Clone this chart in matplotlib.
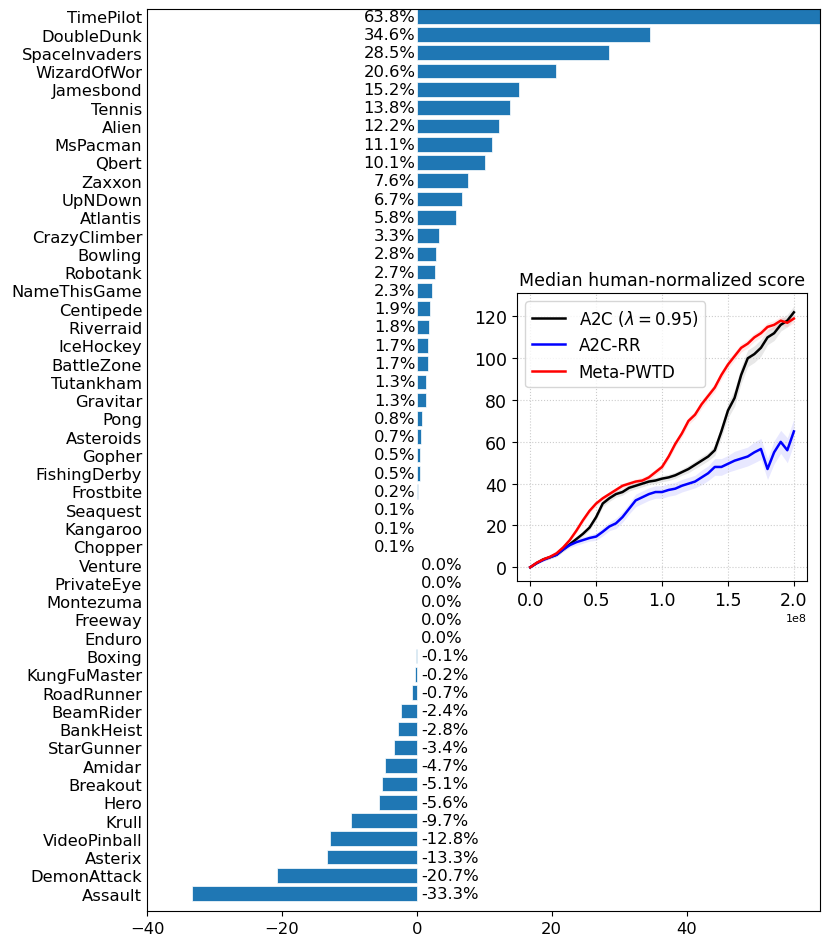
import numpy as np
import matplotlib
matplotlib.use("Agg")
import matplotlib.pyplot as plt

# relative improvement per game (%)
games = ["TimePilot", "DoubleDunk", "SpaceInvaders", "WizardOfWor", "Jamesbond",
         "Tennis", "Alien", "MsPacman", "Qbert", "Zaxxon", "UpNDown", "Atlantis",
         "CrazyClimber", "Bowling", "Robotank", "NameThisGame", "Centipede",
         "Riverraid", "IceHockey", "BattleZone", "Tutankham", "Gravitar", "Pong",
         "Asteroids", "Gopher", "FishingDerby", "Frostbite", "Seaquest", "Kangaroo",
         "Chopper", "Venture", "PrivateEye", "Montezuma", "Freeway", "Enduro",
         "Boxing", "KungFuMaster", "RoadRunner", "BeamRider", "BankHeist",
         "StarGunner", "Amidar", "Breakout", "Hero", "Krull", "VideoPinball",
         "Asterix", "DemonAttack", "Assault"]
improvement = [63.8, 34.6, 28.5, 20.6, 15.2, 13.8, 12.2, 11.1, 10.1, 7.6, 6.7, 5.8,
               3.3, 2.8, 2.7, 2.3, 1.9, 1.8, 1.7, 1.7, 1.3, 1.3, 0.8, 0.7, 0.5, 0.5,
               0.2, 0.1, 0.1, 0.1, 0.0, 0.0, 0.0, 0.0, 0.0, -0.1, -0.2, -0.7, -2.4,
               -2.8, -3.4, -4.7, -5.1, -5.6, -9.7, -12.8, -13.3, -20.7, -33.3]

# median human-normalized score curves, every 0.05e8 frames
steps = np.linspace(0, 2e8, 41)
a2c = [0, 2.0, 3.8, 4.8, 6, 8.5, 11, 13.5, 16, 19, 24, 30.5, 33, 35, 36, 38, 39, 40,
       41, 41.5, 42.4, 43, 44, 45.5, 47, 49, 51, 53, 56, 65, 75, 81, 92, 100, 102,
       105, 110, 112, 116, 118, 122]
a2c_band = [0.3, 0.5, 0.7, 0.8, 0.8, 1, 1, 1, 1.2, 1.2, 1.5, 1.5, 1.5, 1.5, 1.5, 1.5,
            1.5, 1.5, 1.5, 1.5, 1.5, 1.5, 1.5, 1.5, 1.8, 1.8, 2, 2, 2.5, 3, 3.5, 4, 4,
            4, 4, 4, 3.5, 3.5, 3, 3, 3]
a2c_rr = [0, 2.0, 3.5, 4.8, 6, 8.5, 10.6, 12, 13, 14, 14.7, 17, 19.5, 21, 24, 28, 32,
          33.5, 35, 36, 36, 37, 37.6, 39, 40, 41, 43, 45, 48, 48, 49.5, 51, 52, 53,
          55, 56.6, 47, 55, 60, 56, 65]
rr_band = [0.3, 0.5, 0.7, 0.8, 1, 1, 1.2, 1.5, 1.5, 1.5, 1.8, 2, 2, 2.5, 2.5, 2.5, 3,
           3, 3, 3, 3, 3, 3, 3, 3, 3, 3.5, 3.5, 4, 4, 4, 4.5, 4.5, 4.5, 5, 5, 5, 5.5,
           5.5, 6, 6]
meta = [0, 2.2, 3.8, 5.0, 6.7, 9.5, 13, 17.5, 22.5, 27, 30.5, 33, 35, 37, 39, 40, 41,
        41.5, 43, 45.5, 48, 53, 59, 64, 70, 73, 78, 82, 86, 92, 97, 101, 105, 107,
        110, 112, 115, 116, 118, 117, 119]
meta_band = [0.3, 0.5, 0.7, 0.8, 0.8, 1, 1, 1, 1.2, 1.2, 1.2, 1.2, 1.2, 1.2, 1.2,
             1.2, 1.2, 1.5, 1.5, 1.5, 1.5, 1.5, 1.5, 1.8, 1.8, 1.8, 2, 2, 2, 2, 2,
             2, 2, 2, 2, 2, 2, 2, 2, 2, 2]

fig = plt.figure(figsize=(8.31, 9.37), dpi=100)
ax = fig.add_axes([0.1769, 0.0267, 0.8099, 0.9627])

ypos = np.arange(len(games))[::-1]
ax.barh(ypos, improvement, height=0.8, color="#1f77b4", edgecolor="white", linewidth=0.5)
for y, v in zip(ypos, improvement):
    if v > 0:
        ax.annotate(f"{v:.1f}%", (0, y), xytext=(-1, 0), textcoords="offset points",
                    ha="right", va="center", fontsize=11.8)
    else:
        ax.annotate(f"{v:.1f}%", (0, y), xytext=(3, 0), textcoords="offset points",
                    ha="left", va="center", fontsize=11.8)
ax.set_yticks(ypos)
ax.set_yticklabels(games, fontsize=11.8)
ax.tick_params(axis="y", length=0)
ax.tick_params(axis="x", labelsize=11.8)
ax.set_xlim(-40, 59.8)
ax.set_ylim(-0.95, 48.4)
ax.set_xticks([-40, -20, 0, 20, 40])

# inset
ins = fig.add_axes([0.6222, 0.3789, 0.349, 0.3074])
curves = [(a2c, a2c_band, "black", "gray", r"A2C ($\lambda=0.95$)"),
          (a2c_rr, rr_band, "blue", "#8080ff", "A2C-RR"),
          (meta, meta_band, "red", "#ff8080", "Meta-PWTD")]
for vals, band, col, fcol, lab in curves:
    vals = np.array(vals)
    band = np.array(band)
    ins.fill_between(steps, vals - band, vals + band, color=fcol, alpha=0.18, lw=0)
    ins.plot(steps, vals, color=col, lw=1.8, label=lab)
ins.set_title("Median human-normalized score", fontsize=12.5)
ins.set_yticks([0, 20, 40, 60, 80, 100, 120])
ins.set_xticks([0, 0.5e8, 1e8, 1.5e8, 2e8])
ins.tick_params(labelsize=12.5)
ins.xaxis.get_offset_text().set_fontsize(8)
ins.grid(True, linestyle=":", color="#cccccc", linewidth=0.8)
ins.legend(loc="upper left", fontsize=12, handlelength=2.0)

fig.savefig("out.png", dpi=100)
